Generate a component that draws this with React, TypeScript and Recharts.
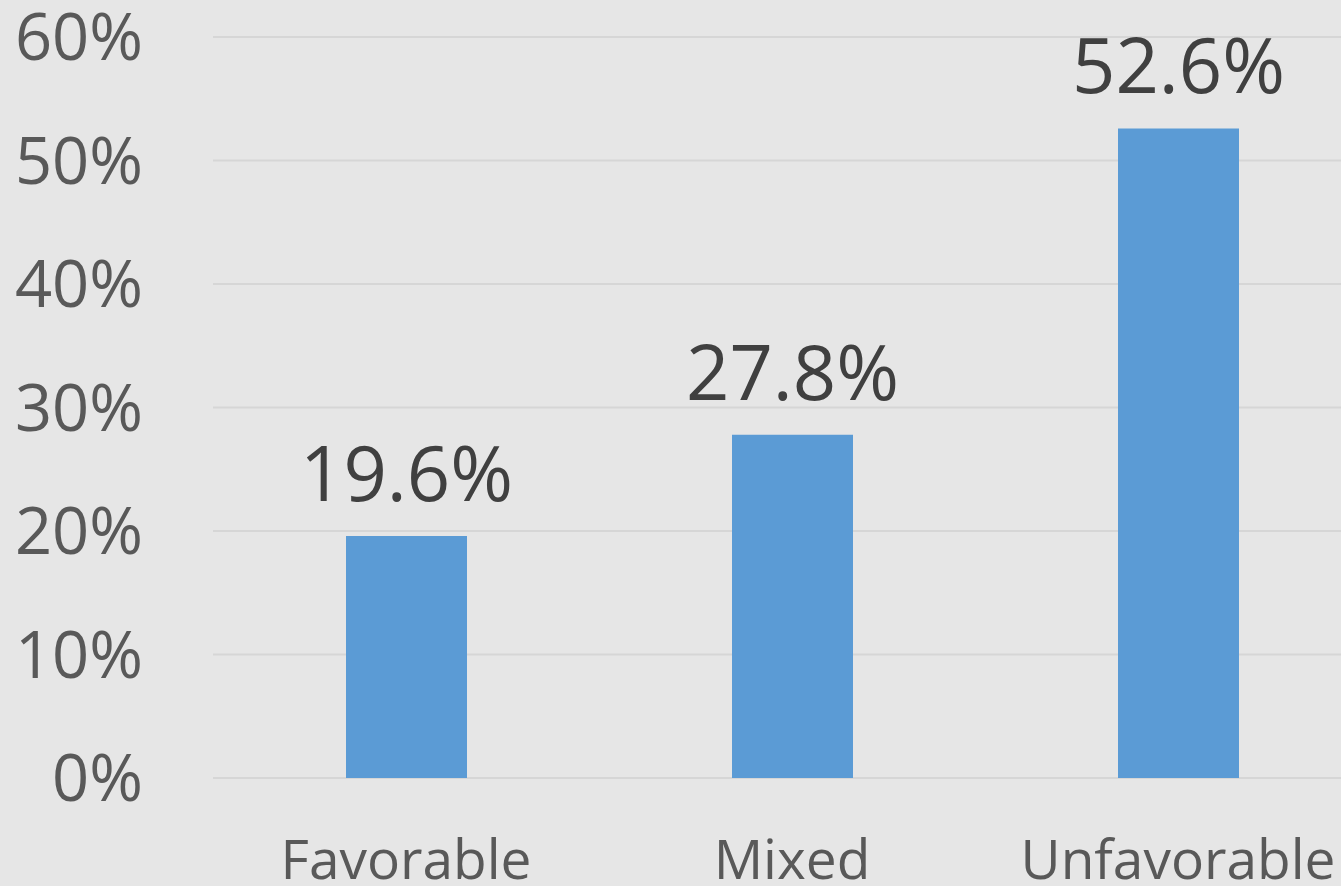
import { BarChart, Bar, XAxis, YAxis, CartesianGrid, LabelList } from 'recharts'

const categories = ['Favorable', 'Mixed', 'Unfavorable']
const shares = [0.196, 0.278, 0.526]
const yTicks = [0, 0.1, 0.2, 0.3, 0.4, 0.5, 0.6]

const data = categories.map((name, i) => ({ name, share: shares[i] }))

const FONT = '"Open Sans", "Segoe UI", sans-serif'
const pct = (v: number) => `${Math.round(v * 100)}%`

// y tick: right-aligned, vertically centred on the gridline
function ShareTick({ x, y, payload }: { x?: number; y?: number; payload?: { value: number } }) {
  if (x == null || y == null || !payload) return null
  return (
    <text x={143} y={y} dy={23} textAnchor="end" fill="#595959" style={{ fontSize: 65, fontFamily: FONT }}>
      {pct(payload.value)}
    </text>
  )
}

function CategoryTick({ x, y, payload }: { x?: number; y?: number; payload?: { value: string } }) {
  if (x == null || y == null || !payload) return null
  return (
    <text x={x} y={879} textAnchor="middle" fill="#595959" style={{ fontSize: 55, fontFamily: FONT }}>
      {payload.value}
    </text>
  )
}

// value above the bar, e.g. "19.6%"
function ValueLabel(props: any) {
  const { x, y, width, value } = props
  return (
    <text x={x + width / 2} y={y - 35} textAnchor="middle" fill="#404040" style={{ fontSize: 76, fontFamily: FONT }}>
      {`${(value * 100).toFixed(1)}%`}
    </text>
  )
}

export default function App() {
  return (
    <div style={{ position: 'absolute', left: 0, top: 0, width: 1341, height: 886, overflow: 'hidden', background: '#e6e6e6' }}>
      <BarChart
        width={1371}
        height={886}
        data={data}
        margin={{ top: 37, right: 0, bottom: 0, left: 1 }}
      >
        <CartesianGrid vertical={false} stroke="#d6d6d6" strokeWidth={2} />
        <YAxis
          type="number"
          domain={[0, 0.6]}
          ticks={yTicks}
          width={212}
          axisLine={false}
          tickLine={false}
          tick={<ShareTick />}
        />
        <XAxis
          dataKey="name"
          height={108}
          axisLine={false}
          tickLine={false}
          tick={<CategoryTick />}
        />
        <Bar dataKey="share" fill="#5b9bd5" barSize={121} isAnimationActive={false}>
          <LabelList dataKey="share" content={<ValueLabel />} />
        </Bar>
      </BarChart>
    </div>
  )
}
